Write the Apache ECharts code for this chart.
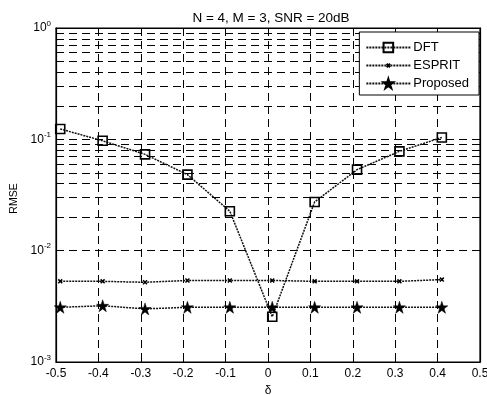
<!DOCTYPE html>
<html>
<head>
<meta charset="utf-8">
<script src="https://cdn.jsdelivr.net/npm/echarts@6/dist/echarts.min.js"></script>
<style>html,body{margin:0;padding:0;background:#fff;}#c{width:487px;height:395px;}</style>
</head>
<body>
<div id="c"></div>
<script>
const deltas = [-0.49, -0.39, -0.29, -0.19, -0.09, 0.01, 0.11, 0.21, 0.31, 0.41];
const dft = [0.124, 0.097, 0.0733, 0.0482, 0.0226, 0.00255, 0.0274, 0.0534, 0.078, 0.104];
const esprit = [0.0053, 0.0053, 0.0052, 0.0054, 0.0054, 0.0054, 0.0053, 0.0053, 0.0053, 0.0055];
const proposed = [0.0031, 0.0032, 0.0030, 0.0031, 0.0031, 0.0031, 0.0031, 0.0031, 0.0031, 0.0031];
const xTicks = [-0.5, -0.4, -0.3, -0.2, -0.1, 0, 0.1, 0.2, 0.3, 0.4, 0.5];
const minorY = [0.002,0.003,0.004,0.005,0.006,0.007,0.008,0.009,
                0.02,0.03,0.04,0.05,0.06,0.07,0.08,0.09,
                0.2,0.3,0.4,0.5,0.6,0.7,0.8,0.9];
const titleText = 'N = 4, M = 3, SNR = 20dB';

const FONT = '"Liberation Sans", Arial, Helvetica, sans-serif';
const STAR = 'path://M50,0 L61.2,34.5 L97.6,34.5 L68.2,55.9 L79.4,90.5 L50,69.1 L20.6,90.5 L31.8,55.9 L2.4,34.5 L38.8,34.5 Z';
const XMARK = 'path://M-9,-9 M19,19 M0,0 L10,10 M10,0 L0,10';

const zip = (xs, ys) => xs.map((x, i) => [x, ys[i]]);
const dash = [8, 5];
const lineStyle = {color: '#111', width: 1.5, type: [2, 1]};

const chart = echarts.init(document.getElementById('c'), null, {renderer: 'canvas'});
chart.setOption({
  animation: false,
  backgroundColor: '#fff',
  textStyle: {fontFamily: FONT, color: '#000'},
  title: {
    text: titleText, left: 266, top: 6, textAlign: 'center',
    textStyle: {fontFamily: FONT, fontSize: 13.5, fontWeight: 'normal', color: '#000'}
  },
  grid: {left: 56, right: 7, top: 28, bottom: 33, show: true, borderColor: '#000', borderWidth: 1.2,
         outerBoundsMode: 'none', containLabel: false},
  legend: {
    orient: 'vertical', right: 8, top: 32, z: 20,
    backgroundColor: '#fff', borderColor: '#000', borderWidth: 1,
    padding: [9, 10, 5, 6], itemGap: 5, itemWidth: 44, itemHeight: 12,
    textStyle: {fontFamily: FONT, fontSize: 13, color: '#000', padding: [0, 0, 0, -2]},
    data: ['DFT', 'ESPRIT', 'Proposed']
  },
  xAxis: [{
    type: 'value', min: -0.5, max: 0.5, interval: 0.1,
    name: 'δ', nameLocation: 'middle', nameGap: 18,
    nameTextStyle: {fontFamily: FONT, fontSize: 12, color: '#000'},
    axisLine: {show: true, onZero: false, lineStyle: {color: '#000', width: 1.2}},
    axisTick: {show: true, inside: true, length: 4, lineStyle: {color: '#000'}},
    axisLabel: {fontFamily: FONT, fontSize: 12, color: '#000', margin: 6,
      formatter: v => String(parseFloat(v.toFixed(1)))},
    splitLine: {show: true, lineStyle: {color: '#000', type: dash, width: 1}}
  }, {
    type: 'value', min: -0.5, max: 0.5, interval: 0.1, position: 'top',
    axisLine: {show: true, onZero: false, lineStyle: {color: '#000', width: 1.2}},
    axisTick: {show: true, inside: true, length: 4, lineStyle: {color: '#000'}},
    axisLabel: {show: false}, splitLine: {show: false}
  }],
  yAxis: [{
    type: 'log', logBase: 10, min: 0.001, max: 1,
    name: 'RMSE', nameLocation: 'middle', nameGap: 33,
    nameTextStyle: {fontFamily: FONT, fontSize: 10.5, color: '#000', padding: [0, 7, 0, 0]},
    axisLine: {show: true, onZero: false, lineStyle: {color: '#000', width: 1.2}},
    axisTick: {show: true, inside: true, length: 4, lineStyle: {color: '#000'}},
    axisLabel: {
      fontFamily: FONT, fontSize: 12, color: '#000', margin: 5,
      formatter: v => '10{sup|' + Math.round(Math.log10(v)) + '}',
      rich: {sup: {fontFamily: FONT, fontSize: 8, color: '#000', verticalAlign: 'top', padding: [0, 0, 9, 0]}}
    },
    splitLine: {show: true, lineStyle: {color: '#000', type: dash, width: 1}}
  }, {
    type: 'log', logBase: 10, min: 0.001, max: 1, position: 'right',
    axisLine: {show: true, onZero: false, lineStyle: {color: '#000', width: 1.2}},
    axisTick: {show: true, inside: true, length: 4, lineStyle: {color: '#000'}},
    axisLabel: {show: false}, splitLine: {show: false}
  }],
  series: [{
    name: 'minor', type: 'line', data: [], silent: true, z: 1,
    markLine: {
      silent: true, symbol: ['none', 'none'], label: {show: false}, z: 1,
      lineStyle: {color: '#000', type: dash, width: 1},
      emphasis: {disabled: true},
      data: minorY.map(v => ({yAxis: v}))
    }
  }, {
    name: 'DFT', type: 'line', data: zip(deltas, dft),
    symbol: 'rect', symbolSize: 9,
    itemStyle: {color: 'rgba(255,255,255,0)', borderColor: '#000', borderWidth: 1.6},
    lineStyle: lineStyle, z: 5
  }, {
    name: 'ESPRIT', type: 'line', data: zip(deltas, esprit),
    symbol: XMARK, symbolSize: 11,
    itemStyle: {color: '#000', borderColor: '#000', borderWidth: 1.5},
    lineStyle: lineStyle, z: 5
  }, {
    name: 'Proposed', type: 'line', data: zip(deltas, proposed),
    symbol: STAR, symbolSize: 12,
    itemStyle: {color: '#000', borderColor: '#000', borderWidth: 0.5},
    lineStyle: lineStyle, z: 5
  }]
});
</script>
</body>
</html>
